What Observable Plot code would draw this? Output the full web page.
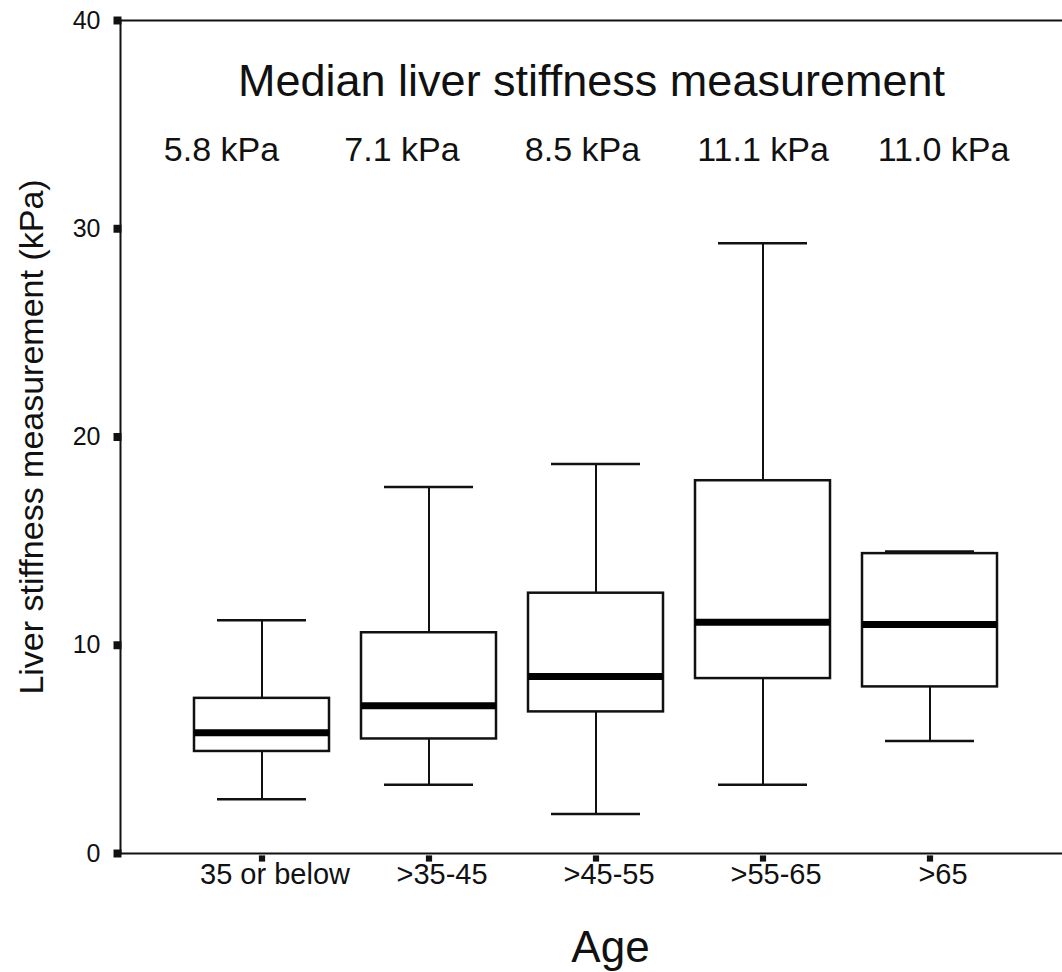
<!DOCTYPE html>
<html>
<head>
<meta charset="utf-8">
<script src="https://cdn.jsdelivr.net/npm/d3@7"></script>
<script src="https://cdn.jsdelivr.net/npm/@observablehq/plot@0.6"></script>
<style>
  html, body { margin: 0; padding: 0; background: #fff; }
  #chart svg { display: block; }
</style>
</head>
<body>
<div id="chart"></div>
<script>
const ageGroups = ["35 or below", ">35-45", ">45-55", ">55-65", ">65"];
const whiskerLow = [2.6, 3.3, 1.9, 3.3, 5.4];
const q1 = [4.9, 5.5, 6.8, 8.4, 8.0];
const median = [5.8, 7.1, 8.5, 11.1, 11.0];
const q3 = [7.45, 10.6, 12.5, 17.9, 14.4];
const whiskerHigh = [11.2, 17.6, 18.7, 29.3, 14.5];
const medianLabels = ["5.8 kPa", "7.1 kPa", "8.5 kPa", "11.1 kPa", "11.0 kPa"];
const yTicks = [0, 10, 20, 30, 40];
const title = "Median liver stiffness measurement";
const yLabel = "Liver stiffness measurement (kPa)";
const xLabel = "Age";
const labelLevel = 33.8;

const rows = ageGroups.map((g, i) => ({
  group: g, low: whiskerLow[i], q1: q1[i], median: median[i],
  q3: q3[i], high: whiskerHigh[i], label: medianLabels[i]
}));

const font = "'Liberation Sans', Arial, sans-serif";

// median labels are spread slightly wider than the boxes in the original
const labelMarks = rows.map((r, i) =>
  Plot.text([r], { x: "group", y: () => labelLevel, text: "label", dx: (i - 3) * 13.5, fontSize: 34, fill: "#111" })
);

const chart = Plot.plot({
  width: 1062,
  height: 972,
  marginLeft: 120,
  marginRight: 0,
  marginTop: 20,
  marginBottom: 119,
  style: { fontFamily: font, background: "#fff", color: "#111" },
  x: { domain: ageGroups, type: "band", range: [176.25, 1013.75], padding: 0 },
  y: { domain: [0, 40] },
  marks: [
    Plot.frame({ anchor: "left", stroke: "#111", strokeWidth: 2 }),
    Plot.ruleY([0, 40], { stroke: "#111", strokeWidth: 2 }),
    Plot.axisY({ ticks: yTicks, tickSize: 0, tickPadding: 20, fontSize: 25, label: null }),
    Plot.axisX({ tickSize: 0, tickPadding: 10, fontSize: 29, dx: 13, label: null }),
    Plot.dot(yTicks, { y: d => d, frameAnchor: "left", symbol: "square", r: 4.5, dx: -3, fill: "#111", stroke: "none" }),
    Plot.dot(ageGroups, { x: d => d, frameAnchor: "bottom", symbol: "square", r: 3.5, dy: 5, fill: "#111", stroke: "none" }),
    Plot.text([yLabel], { frameAnchor: "left", textAnchor: "middle", dx: -88, rotate: -90, fontSize: 34, fill: "#111" }),
    Plot.text([xLabel], { frameAnchor: "bottom", dx: 19, dy: 108, fontSize: 44, fill: "#111" }),
    // whiskers
    Plot.ruleX(rows, { x: "group", y1: "low", y2: "q1", stroke: "#111", strokeWidth: 2 }),
    Plot.ruleX(rows, { x: "group", y1: "q3", y2: "high", stroke: "#111", strokeWidth: 2 }),
    Plot.tickY(rows, { x: "group", y: "low", insetLeft: 39, insetRight: 39, stroke: "#111", strokeWidth: 2.5 }),
    Plot.tickY(rows, { x: "group", y: "high", insetLeft: 39, insetRight: 39, stroke: "#111", strokeWidth: 2.5 }),
    // boxes
    Plot.barY(rows, { x: "group", y1: "q1", y2: "q3", insetLeft: 16, insetRight: 16, fill: "#fff", stroke: "#111", strokeWidth: 2.5 }),
    Plot.tickY(rows, { x: "group", y: "median", insetLeft: 16, insetRight: 16, stroke: "#000", strokeWidth: 7 }),
    // annotations
    ...labelMarks,
    Plot.text([title], { frameAnchor: "top", dy: 44, fontSize: 45, fill: "#111" })
  ]
});

document.getElementById("chart").appendChild(chart);
</script>
</body>
</html>
